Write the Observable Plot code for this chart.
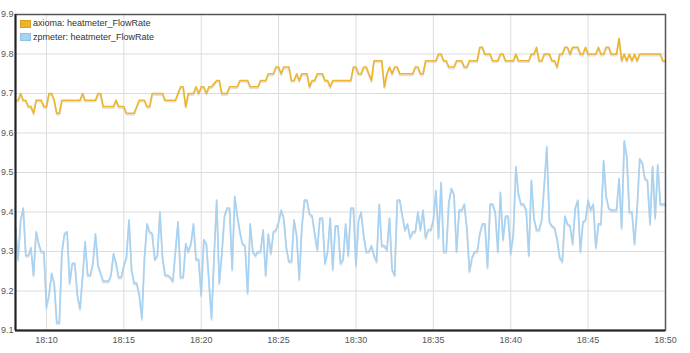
<!DOCTYPE html>
<html>
<head>
<meta charset="utf-8">
<script src="https://cdn.jsdelivr.net/npm/d3@7"></script>
<script src="https://cdn.jsdelivr.net/npm/@observablehq/plot@0.6"></script>
<style>
  html, body { margin: 0; padding: 0; background: #fff; }
  #wrap { position: relative; width: 690px; height: 353px; font-family: "Liberation Sans", Arial, sans-serif; }
  #legend { position: absolute; left: 20px; top: 17px; font-size: 9px; color: #333; line-height: 13.5px; }
  #legend .row { display: flex; align-items: center; white-space: nowrap; }
  #legend .sw { width: 9px; height: 6px; margin-right: 2px; border: 1px solid; }
</style>
</head>
<body>
<div id="wrap">
  <div id="legend"></div>
</div>
<script>
// ---- data ----
const seriesNames = ["axioma: heatmeter_FlowRate", "zpmeter: heatmeter_FlowRate"];
const seriesColors = ["#efb52a", "#a6d2f3"];
const startTime = "2020-01-01T18:08:00Z";
const stepSeconds = 10;
const xDomain = ["2020-01-01T18:08:00Z", "2020-01-01T18:50:00Z"];
const yTicks = [9.1, 9.2, 9.3, 9.4, 9.5, 9.6, 9.7, 9.8, 9.9];

const axioma = [
  9.683, 9.683, 9.70, 9.683, 9.683, 9.667, 9.667, 9.65, 9.683, 9.683,
  9.683, 9.667, 9.667, 9.70, 9.70, 9.683, 9.65, 9.65, 9.683, 9.683,
  9.683, 9.683, 9.683, 9.683, 9.683, 9.683, 9.70, 9.683, 9.683, 9.683,
  9.683, 9.683, 9.70, 9.70, 9.667, 9.667, 9.667, 9.667, 9.667, 9.683,
  9.667, 9.667, 9.667, 9.65, 9.65, 9.65, 9.65, 9.667, 9.683, 9.683,
  9.683, 9.667, 9.667, 9.70, 9.70, 9.70, 9.70, 9.70, 9.683, 9.683,
  9.683, 9.683, 9.683, 9.70, 9.717, 9.717, 9.667, 9.70, 9.70, 9.70,
  9.717, 9.70, 9.717, 9.717, 9.70, 9.717, 9.717, 9.725, 9.733, 9.733,
  9.70, 9.70, 9.70, 9.717, 9.717, 9.717, 9.717, 9.733, 9.733, 9.733,
  9.733, 9.717, 9.717, 9.717, 9.717, 9.733, 9.733, 9.733, 9.75, 9.75,
  9.75, 9.767, 9.767, 9.75, 9.767, 9.767, 9.767, 9.733, 9.733, 9.75,
  9.733, 9.75, 9.75, 9.75, 9.717, 9.733, 9.733, 9.75, 9.75, 9.75,
  9.733, 9.733, 9.717, 9.733, 9.733, 9.733, 9.733, 9.733, 9.733, 9.733,
  9.733, 9.767, 9.767, 9.75, 9.75, 9.767, 9.767, 9.75, 9.733, 9.783,
  9.783, 9.783, 9.783, 9.717, 9.75, 9.767, 9.75, 9.767, 9.767, 9.75,
  9.75, 9.75, 9.75, 9.75, 9.75, 9.767, 9.767, 9.75, 9.75, 9.783,
  9.783, 9.783, 9.783, 9.783, 9.80, 9.80, 9.783, 9.783, 9.767, 9.767,
  9.767, 9.783, 9.783, 9.783, 9.767, 9.767, 9.783, 9.783, 9.783, 9.783,
  9.817, 9.817, 9.80, 9.80, 9.80, 9.783, 9.783, 9.783, 9.80, 9.80,
  9.783, 9.783, 9.783, 9.783, 9.80, 9.783, 9.783, 9.783, 9.783, 9.783,
  9.80, 9.80, 9.817, 9.783, 9.783, 9.80, 9.80, 9.80, 9.783, 9.783,
  9.767, 9.80, 9.80, 9.817, 9.817, 9.80, 9.817, 9.817, 9.817, 9.80,
  9.80, 9.817, 9.80, 9.80, 9.80, 9.80, 9.817, 9.80, 9.80, 9.817,
  9.817, 9.80, 9.80, 9.80, 9.84, 9.783, 9.80, 9.783, 9.80, 9.783,
  9.80, 9.783, 9.80, 9.80, 9.80, 9.80, 9.80, 9.80, 9.80, 9.80,
  9.80, 9.783, 9.783
];

const zpmeter = [
  9.36, 9.28, 9.38, 9.41, 9.29, 9.29, 9.31, 9.24, 9.35, 9.32,
  9.30, 9.30, 9.16, 9.19, 9.245, 9.22, 9.12, 9.12, 9.30, 9.345,
  9.35, 9.22, 9.27, 9.27, 9.19, 9.155, 9.235, 9.325, 9.24, 9.24,
  9.27, 9.345, 9.265, 9.245, 9.225, 9.225, 9.225, 9.24, 9.295, 9.27,
  9.235, 9.235, 9.265, 9.285, 9.38, 9.255, 9.22, 9.22, 9.19, 9.13,
  9.285, 9.37, 9.35, 9.345, 9.28, 9.29, 9.40, 9.285, 9.24, 9.24,
  9.235, 9.225, 9.30, 9.375, 9.235, 9.235, 9.32, 9.30, 9.32, 9.37,
  9.28, 9.28, 9.19, 9.33, 9.32, 9.225, 9.13, 9.29, 9.43, 9.22,
  9.295, 9.39, 9.41, 9.41,
  9.255, 9.44, 9.39, 9.35, 9.32, 9.315, 9.195, 9.37, 9.30, 9.29,
  9.30, 9.30, 9.355, 9.24, 9.345, 9.295, 9.35, 9.355, 9.375, 9.405,
  9.385, 9.31, 9.275, 9.275, 9.38, 9.34, 9.23, 9.36, 9.43, 9.43,
  9.395, 9.39, 9.345, 9.305, 9.385, 9.385, 9.27, 9.30, 9.385, 9.255,
  9.365, 9.365, 9.27, 9.28, 9.37, 9.29, 9.41, 9.41, 9.265, 9.38,
  9.40, 9.34, 9.30, 9.30, 9.315, 9.29, 9.275, 9.42, 9.315, 9.315,
  9.305, 9.385, 9.255, 9.24, 9.43, 9.43, 9.39, 9.355, 9.37, 9.335,
  9.35, 9.35, 9.40, 9.355, 9.405, 9.335, 9.355, 9.355, 9.38, 9.455,
  9.335, 9.475, 9.30, 9.30, 9.425, 9.46, 9.445, 9.30, 9.405,
  9.405,
  9.42, 9.36, 9.25, 9.285, 9.30, 9.30, 9.345, 9.37, 9.37, 9.26,
  9.42, 9.42, 9.40, 9.30, 9.45, 9.33, 9.39, 9.39, 9.295, 9.345,
  9.515, 9.445, 9.42, 9.42, 9.405, 9.29, 9.48, 9.385, 9.355, 9.355,
  9.38, 9.47, 9.565, 9.375, 9.365, 9.36, 9.33, 9.285, 9.275, 9.39,
  9.37, 9.365, 9.32, 9.41, 9.43, 9.30, 9.375, 9.38, 9.43, 9.405,
  9.42, 9.31, 9.37, 9.37, 9.53, 9.44, 9.41, 9.405, 9.405, 9.405,
  9.485, 9.36, 9.58, 9.54, 9.40, 9.40, 9.32, 9.41, 9.535, 9.525,
  9.485, 9.48, 9.37, 9.515, 9.385, 9.52, 9.42, 9.42,
  9.42
];

// ---- build table ----
const t0 = Date.parse(startTime);
const timeAt = i => new Date(t0 + i * stepSeconds * 1000);
const rows = [
  ...axioma.map((v, i) => ({time: timeAt(i), value: v, series: seriesNames[0]})),
  ...zpmeter.map((v, i) => ({time: timeAt(i), value: v, series: seriesNames[1]}))
];
const xd = xDomain.map(d => new Date(d));

const chart = Plot.plot({
  width: 690,
  height: 353,
  marginLeft: 15,
  marginRight: 25,
  marginTop: 14,
  marginBottom: 23,
  style: {fontFamily: "'Liberation Sans', Arial, sans-serif", fontSize: "9px", color: "#555", background: "#fff"},
  x: {type: "utc", domain: xd, label: null},
  y: {domain: [9.1, 9.9], label: null},
  color: {domain: seriesNames, range: seriesColors},
  marks: [
    Plot.gridX({ticks: d3.utcMinute.every(5), stroke: "#dcdcdc", strokeOpacity: 1}),
    Plot.gridY(yTicks, {stroke: "#dcdcdc", strokeOpacity: 1}),
    Plot.line(rows, {x: "time", y: "value", z: "series", stroke: "#888", strokeOpacity: 0.25, strokeWidth: 1.8, dy: 1.5}),
    Plot.line(rows, {x: "time", y: "value", z: "series", stroke: "series", strokeWidth: 1.6}),
    Plot.frame({stroke: "#555", strokeWidth: 1.5}),
    Plot.ruleX([xd[0]], {stroke: "#222", strokeWidth: 2}),
    Plot.ruleY([9.1], {stroke: "#222", strokeWidth: 2}),
    Plot.axisY(yTicks, {tickSize: 0, tickPadding: 2, tickFormat: d3.format(".1f"), fontSize: 9, label: null}),
    Plot.axisX({ticks: d3.utcMinute.every(5), tickSize: 0, tickPadding: 6, tickFormat: d3.utcFormat("%H:%M"), fontSize: 9, label: null})
  ]
});
const wrap = document.getElementById("wrap");
wrap.insertBefore(chart, wrap.firstChild);

const legend = document.getElementById("legend");
const borders = ["#d9a21a", "#8fc0e8"];
seriesNames.forEach((name, i) => {
  const row = document.createElement("div");
  row.className = "row";
  const sw = document.createElement("span");
  sw.className = "sw";
  sw.style.background = seriesColors[i];
  sw.style.borderColor = borders[i];
  const tx = document.createElement("span");
  tx.textContent = name;
  row.appendChild(sw);
  row.appendChild(tx);
  legend.appendChild(row);
});
</script>
</body>
</html>
